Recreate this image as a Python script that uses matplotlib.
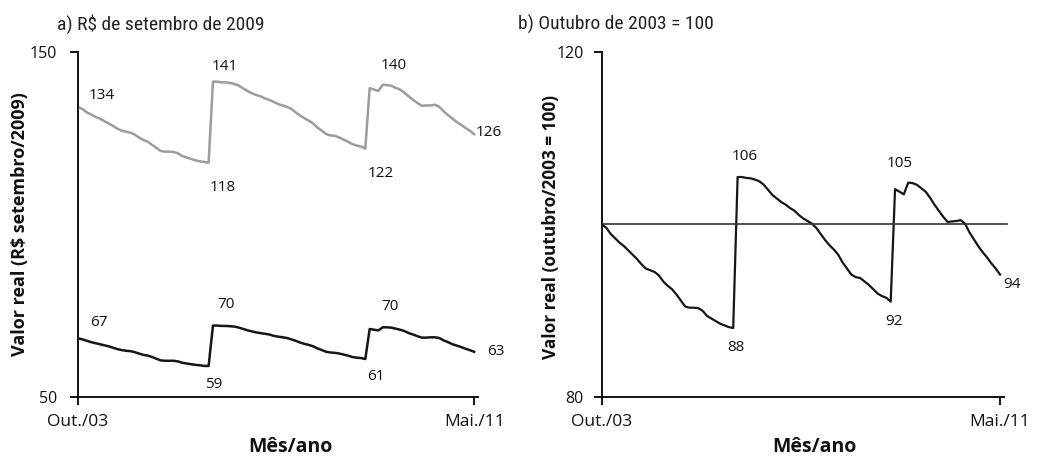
import matplotlib
matplotlib.use("Agg")
import matplotlib.pyplot as plt
import numpy as np

# months from Out./03 (0) to Mai./11 (91)
months = np.arange(92)
tick_pos = [0, 91]
tick_labels = ["Out./03", "Mai./11"]

# a) R$ de setembro de 2009 - upper (gray) series
serie_cinza = [
    134.0, 133.5, 132.5, 131.9, 131.2, 130.7, 130.0, 129.3, 128.6, 127.8,
    127.2, 126.9, 126.6, 126.1, 125.2, 124.5, 124.0, 123.1, 122.2, 121.3,
    121.1, 121.1, 121.0, 120.6, 119.8, 119.4, 119.0, 118.6, 118.3, 118.1,
    117.9, 141.4, 141.4, 141.2, 141.2, 141.0, 140.7, 140.2, 139.4, 138.6,
    138.0, 137.5, 137.1, 136.5, 136.1, 135.5, 134.9, 134.5, 134.1, 133.5,
    132.5, 131.6, 130.8, 130.1, 129.3, 128.1, 127.2, 126.2, 125.8, 125.7,
    125.2, 124.6, 124.0, 123.3, 122.9, 122.6, 122.0, 139.5, 139.1, 138.7,
    140.5, 140.4, 140.2, 139.6, 139.1, 138.2, 137.1, 136.1, 135.2, 134.4,
    134.5, 134.5, 134.7, 134.1, 132.8, 131.7, 130.7, 129.7, 128.9, 128.0,
    127.2, 126.2,
]

# a) lower (black) series
serie_preta = [
    67.0, 66.7, 66.3, 65.9, 65.6, 65.3, 65.0, 64.7, 64.3, 63.9,
    63.6, 63.4, 63.3, 63.0, 62.6, 62.2, 62.0, 61.6, 61.1, 60.6,
    60.5, 60.5, 60.5, 60.3, 59.9, 59.7, 59.5, 59.3, 59.2, 59.0,
    59.0, 70.7, 70.7, 70.6, 70.6, 70.5, 70.4, 70.1, 69.7, 69.3,
    69.0, 68.7, 68.5, 68.3, 68.1, 67.7, 67.5, 67.3, 67.1, 66.7,
    66.3, 65.8, 65.4, 65.1, 64.7, 64.1, 63.6, 63.1, 62.9, 62.8,
    62.6, 62.3, 62.0, 61.6, 61.4, 61.3, 61.0, 69.7, 69.5, 69.3,
    70.2, 70.2, 70.1, 69.8, 69.5, 69.1, 68.5, 68.1, 67.6, 67.2,
    67.2, 67.3, 67.3, 67.1, 66.4, 65.9, 65.3, 64.9, 64.5, 64.0,
    63.6, 63.1,
]

# b) Outubro de 2003 = 100
indice = [
    100.0, 99.6, 98.9, 98.4, 97.9, 97.5, 97.0, 96.5, 96.0, 95.4,
    94.9, 94.7, 94.5, 94.1, 93.4, 92.9, 92.5, 91.9, 91.2, 90.5,
    90.35, 90.35, 90.3, 90.0, 89.4, 89.1, 88.8, 88.5, 88.3, 88.1,
    88.0, 105.5, 105.5, 105.4, 105.35, 105.2, 105.0, 104.6, 104.0, 103.4,
    103.0, 102.6, 102.3, 101.9, 101.6, 101.1, 100.7, 100.4, 100.1, 99.6,
    98.9, 98.2, 97.6, 97.1, 96.5, 95.6, 94.9, 94.2, 93.9, 93.8,
    93.4, 93.0, 92.5, 92.0, 91.7, 91.5, 91.05, 104.1, 103.8, 103.5,
    104.85, 104.8, 104.6, 104.2, 103.8, 103.1, 102.3, 101.6, 100.9, 100.3,
    100.35, 100.4, 100.5, 100.1, 99.1, 98.3, 97.5, 96.8, 96.2, 95.5,
    94.9, 94.2,
]

# value labels (text, x in months, y)
rotulos_a = [("134", 5.5, 137.5), ("141", 33.8, 145.7), ("118", 33.3, 110.6),
             ("140", 72.6, 146.2), ("122", 69.6, 114.9), ("126", 94.4, 126.8),
             ("67", 4.8, 71.7), ("70", 34.0, 76.7), ("59", 31.2, 53.5),
             ("70", 71.7, 76.1), ("61", 68.5, 55.8), ("63", 96.0, 63.3)]
rotulos_b = [("106", 32.7, 107.9), ("105", 68.1, 107.1), ("88", 30.6, 85.7),
             ("92", 66.8, 88.7), ("94", 93.7, 93.1)]

plt.rcParams['font.family'] = ['Open Sans', 'DejaVu Sans']
cond = ['Roboto Condensed', 'Liberation Sans Narrow', 'Lato', 'DejaVu Sans']

W, H = 1039, 458
fig = plt.figure(figsize=(W / 100, H / 100), dpi=100)
ax1 = fig.add_axes([0.0751, 0.1332, 0.385, 0.7533])
ax2 = fig.add_axes([0.5794, 0.1332, 0.3869, 0.7533])


def style(ax, ymin, ymax, pad_y):
    for s in ['top', 'right']:
        ax.spines[s].set_visible(False)
    for s in ['left', 'bottom']:
        ax.spines[s].set_linewidth(1.4)
        ax.spines[s].set_color('#111111')
    ax.set_xlim(0, 91.9)
    ax.set_ylim(ymin, ymax)
    ax.set_yticks([ymin, ymax])
    ax.set_xticks(tick_pos)
    ax.set_xticklabels(tick_labels)
    ax.tick_params(axis='y', direction='out', length=6, width=1.4, pad=pad_y,
                   labelsize=11.5, colors='#111111')
    ax.tick_params(axis='x', direction='out', length=6, width=1.4, pad=6,
                   labelsize=12.5, colors='#111111')


# panel a
ax1.plot(months, serie_cinza, color='#9c9c9c', lw=1.8)
ax1.plot(months, serie_preta, color='#161616', lw=1.8)
style(ax1, 50, 150, 9)
for t, x, y in rotulos_a:
    ax1.text(x, y, t, ha='center', va='center', fontsize=11, color='#111111',
             clip_on=False)
fig.text(20 / W, 1 - 224 / H, "Valor real (R$ setembro/2009)", rotation=90,
         fontsize=13, fontweight='bold', ha='center', va='center', color='#111111')
fig.text(290 / W, 1 - 447 / H, "Mês/ano", fontsize=14, fontweight='bold',
         ha='center', va='center', color='#111111')
fig.text(57 / W, 1 - 24 / H, "a) R$ de setembro de 2009", family=cond,
         fontsize=14, va='center', ha='left', color='#222222')

# panel b
ax2.plot(months, indice, color='#161616', lw=1.6)
ax2.axhline(100, xmin=0, xmax=1.008, color='#333333', lw=1.2, clip_on=False)
style(ax2, 80, 120, 7)
for t, x, y in rotulos_b:
    ax2.text(x, y, t, ha='center', va='center', fontsize=11, color='#111111',
             clip_on=False)
fig.text(551 / W, 1 - 227 / H, "Valor real (outubro/2003 = 100)", rotation=90,
         fontsize=12.4, fontweight='bold', ha='center', va='center', color='#111111')
fig.text(814 / W, 1 - 447 / H, "Mês/ano", fontsize=14, fontweight='bold',
         ha='center', va='center', color='#111111')
fig.text(518 / W, 1 - 24 / H, "b) Outubro de 2003 = 100", family=cond,
         fontsize=14, va='center', ha='left', color='#222222')

fig.savefig("out.png", dpi=100)
